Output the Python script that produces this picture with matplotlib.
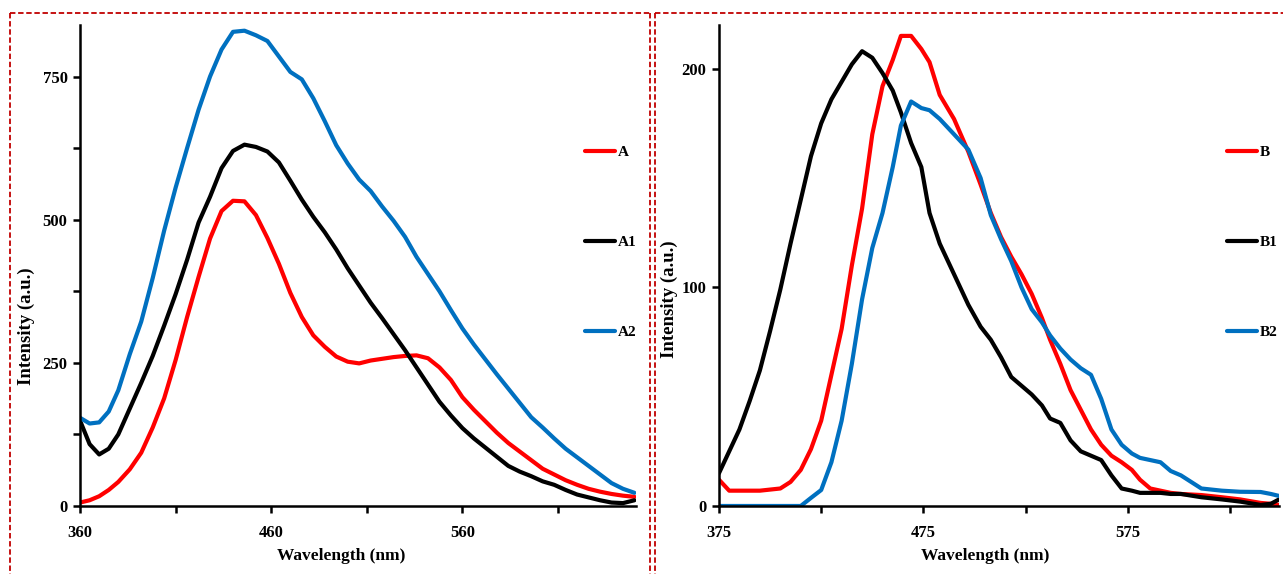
import matplotlib
matplotlib.use("Agg")
import matplotlib.pyplot as plt
from matplotlib.lines import Line2D

plt.rcParams['font.family'] = ['Liberation Serif', 'DejaVu Serif']
plt.rcParams['font.weight'] = 'bold'

# ---- left panel: A, A1, A2 ----
wl_a = [360, 365, 370, 375, 380, 386, 392, 398, 404, 410, 416, 422, 428, 434, 440,
        446, 452, 458, 464, 470, 476, 482, 488, 494, 500, 506, 512, 518, 524, 530,
        536, 542, 548, 554, 560, 566, 572, 578, 584, 590, 596, 602, 608, 614, 620,
        626, 632, 638, 644, 650]
a = [6, 10, 17, 28, 42, 64, 93, 137, 188, 255, 330, 400, 467, 515, 533,
     532, 508, 468, 423, 372, 330, 298, 278, 261, 252, 249, 254, 257, 260, 262,
     263, 258, 242, 220, 190, 168, 148, 128, 110, 95, 80, 65, 55, 45, 37,
     30, 25, 21, 18, 16]
a1 = [149, 108, 90, 100, 125, 170, 215, 262, 315, 370, 430, 495, 540, 590, 620,
      631, 627, 619, 600, 568, 535, 505, 478, 448, 415, 385, 355, 328, 300, 272,
      242, 212, 182, 158, 136, 118, 102, 86, 70, 60, 52, 43, 37, 28, 20,
      15, 10, 6, 5, 10]
a2 = [154, 144, 146, 165, 202, 265, 322, 398, 481, 556, 625, 692, 750, 797, 828,
      830, 822, 812, 785, 758, 745, 712, 672, 630, 598, 570, 550, 523, 498, 470,
      435, 405, 375, 342, 310, 282, 256, 230, 205, 180, 155, 137, 118, 100, 85,
      70, 55, 40, 30, 23]

# ---- right panel: B, B1, B2 ----
wl_b = [375, 380, 385, 390, 395, 400, 405, 410, 415, 420, 425, 430, 435, 440, 445,
        450, 455, 460, 464, 469, 474, 478, 483, 490, 497, 503, 508, 513, 518, 523,
        528, 533, 537, 542, 547, 552, 557, 562, 567, 572, 577, 581, 586, 591, 596,
        601, 611, 621, 630, 640, 645, 649]
b = [12, 7, 7, 7, 7, 7.5, 8, 11, 16.5, 26, 39, 60, 81, 110, 136,
     170, 192, 204, 215, 215, 209, 203, 188, 177, 162, 147, 134, 123, 114, 106,
     97, 86, 76, 65, 53, 44, 35, 28, 23, 20, 16.5, 12, 8, 7, 6,
     5.5, 5, 4, 3, 1.4, 1, 0.5]
b1 = [15, 25, 35, 48, 62, 80, 99, 120, 140, 160, 175, 186, 194, 202, 208,
      205, 198, 190, 180, 166, 155, 134, 120, 106, 92, 82, 76, 68, 59, 55,
      51, 46, 40, 38, 30, 25, 23, 21, 14, 8, 7, 6, 6, 6, 5.5,
      5.5, 4, 3, 2, 0.5, 1, 3]
b2 = [0, 0, 0, 0, 0, 0, 0, 0, 0, 3.7, 7.3, 20, 39, 65, 94.5,
      118, 134, 155, 174, 185, 182, 181, 177, 170, 163, 150, 133, 122, 112, 100,
      90, 84, 78, 72, 67, 63, 60, 49, 35, 28, 24, 22, 21, 20, 16,
      14, 8, 7, 6.5, 6.4, 5.5, 4.6]

red = '#FF0000'
blue = '#0070C0'
black = '#000000'

fig = plt.figure(figsize=(12.83, 5.74), dpi=100)
ax1 = fig.add_axes([0.0624, 0.1185, 0.4336, 0.838])
ax2 = fig.add_axes([0.5604, 0.1185, 0.4365, 0.838])

lw = 3.0
line_kw = dict(lw=lw, solid_capstyle='round', solid_joinstyle='round')
ax1.plot(wl_a, a, color=red, label='A', **line_kw)
ax1.plot(wl_a, a1, color=black, label='A1', **line_kw)
ax1.plot(wl_a, a2, color=blue, label='A2', **line_kw)
ax2.plot(wl_b, b, color=red, label='B', **line_kw)
ax2.plot(wl_b, b1, color=black, label='B1', **line_kw)
ax2.plot(wl_b, b2, color=blue, label='B2', **line_kw)

ax1.set_xlim(360, 651)
ax1.set_ylim(0, 840)
ax1.set_xticks(range(360, 652, 50))
ax1.set_xticklabels(['360', '', '460', '', '560', ''])
ax1.set_yticks(range(0, 841, 125))
ax1.set_yticklabels(['0', '', '250', '', '500', '', '750'])

ax2.set_xlim(375, 649)
ax2.set_ylim(0, 220)
ax2.set_xticks(range(375, 650, 50))
ax2.set_xticklabels(['375', '', '475', '', '575', ''])
ax2.set_yticks([0, 100, 200])

for ax in (ax1, ax2):
    for s in ('top', 'right'):
        ax.spines[s].set_visible(False)
    for s in ('left', 'bottom'):
        ax.spines[s].set_linewidth(1.8)
    ax.tick_params(direction='out', length=5, width=1.8, labelsize=12)
    ax.tick_params(axis='x', pad=9)
    ax.tick_params(axis='y', pad=4)
    ax.set_xlabel('Wavelength (nm)', fontsize=12.5, fontweight='bold')
    ax.set_ylabel('Intensity (a.u.)', fontsize=13.5, fontweight='bold')

ax1.xaxis.set_label_coords(0.47, -0.088)
ax2.xaxis.set_label_coords(0.475, -0.088)
ax1.yaxis.set_label_coords(-0.081, 0.374)
ax2.yaxis.set_label_coords(-0.073, 0.43)

leg_kw = dict(frameon=False, handlelength=2.0, handletextpad=0.15,
              labelspacing=5.0, fontsize=11, loc='upper left', borderpad=0)
ax1.legend(bbox_to_anchor=(577 / 1283, 1 - 138 / 574), bbox_transform=fig.transFigure, **leg_kw)
ax2.legend(bbox_to_anchor=(1219 / 1283, 1 - 138 / 574), bbox_transform=fig.transFigure, **leg_kw)

# red dashed panel frames
W, H = 1283, 574
dash = dict(color='#C00000', lw=1.3, ls=(0, (3, 1.5)))
def px(x, y):
    return x / W, 1 - y / H
for xs, ys in [((10, 650), (13, 13)), ((10, 10), (13, 574)), ((650, 650), (13, 574)),
               ((655, 1283), (13, 13)), ((655, 655), (13, 574))]:
    p0 = px(xs[0], ys[0])
    p1 = px(xs[1], ys[1])
    fig.add_artist(Line2D([p0[0], p1[0]], [p0[1], p1[1]], transform=fig.transFigure, **dash))

fig.savefig('out.png', dpi=100)
